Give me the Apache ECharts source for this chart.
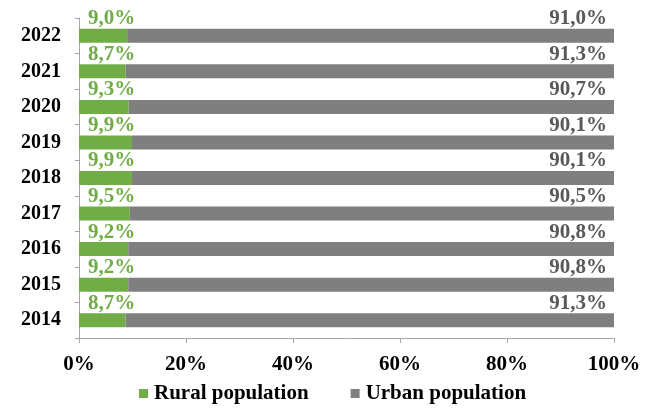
<!DOCTYPE html>
<html>
<head>
<meta charset="utf-8">
<script src="https://cdn.jsdelivr.net/npm/echarts@6/dist/echarts.min.js"></script>
<style>
  html, body { margin: 0; padding: 0; background: #fff; }
  #chart { width: 655px; height: 410px; }
</style>
</head>
<body>
<div id="chart"></div>
<script>
// Population shares by year, bottom-to-top on the category axis
const years = ['2014', '2015', '2016', '2017', '2018', '2019', '2020', '2021', '2022'];
const rural = [8.7, 9.2, 9.2, 9.5, 9.9, 9.9, 9.3, 8.7, 9.0];
const urban = [91.3, 90.8, 90.8, 90.5, 90.1, 90.1, 90.7, 91.3, 91.0];
const xTicks = [0, 20, 40, 60, 80, 100];

const FONT = '"Liberation Serif", "Times New Roman", serif';
const GREEN = '#70AD47';
const GREY = '#7F7F7F';

const pct = v => v.toFixed(1).replace('.', ',') + '%';

const chart = echarts.init(document.getElementById('chart'));
chart.setOption({
  animation: false,
  grid: { left: 79, right: 41, top: 18, bottom: 72, containLabel: false },
  legend: {
    top: 378,
    left: 134,
    icon: 'rect',
    itemWidth: 9,
    itemHeight: 9,
    itemGap: 42,
    textStyle: { fontFamily: FONT, fontWeight: 'bold', fontSize: 21, color: '#000', padding: [0, 0, 0, 1] },
    data: ['Rural population', 'Urban population']
  },
  xAxis: {
    type: 'value',
    min: xTicks[0],
    max: xTicks[xTicks.length - 1],
    interval: 20,
    axisLine: { show: true, lineStyle: { color: '#A6A6A6', width: 1 } },
    axisTick: { show: true, length: 5, lineStyle: { color: '#A6A6A6' } },
    splitLine: { show: false },
    axisLabel: {
      margin: 16,
      formatter: '{value}%',
      fontFamily: FONT, fontWeight: 'bold', fontSize: 21, color: '#000'
    }
  },
  yAxis: {
    type: 'category',
    data: years,
    axisLine: { show: true, lineStyle: { color: '#A6A6A6', width: 1 } },
    axisTick: { show: true, length: 4, lineStyle: { color: '#A6A6A6' } },
    axisLabel: {
      margin: 18,
      fontFamily: FONT, fontWeight: 'bold', fontSize: 20, color: '#000'
    }
  },
  series: [
    {
      name: 'Rural population',
      type: 'bar',
      stack: 'total',
      barWidth: 14,
      itemStyle: { color: GREEN },
      data: rural,
      label: {
        show: true,
        position: [9, 0],
        offset: [0, -10],
        align: 'left',
        verticalAlign: 'middle',
        formatter: p => pct(p.value),
        fontFamily: FONT, fontWeight: 'bold', fontSize: 21, color: GREEN
      }
    },
    {
      name: 'Urban population',
      type: 'bar',
      stack: 'total',
      barWidth: 14,
      itemStyle: { color: GREY },
      data: urban,
      label: {
        show: true,
        position: ['100%', 0],
        offset: [-7, -10],
        align: 'right',
        verticalAlign: 'middle',
        formatter: p => pct(p.value),
        fontFamily: FONT, fontWeight: 'bold', fontSize: 21, color: '#595959'
      }
    }
  ]
});
</script>
</body>
</html>
